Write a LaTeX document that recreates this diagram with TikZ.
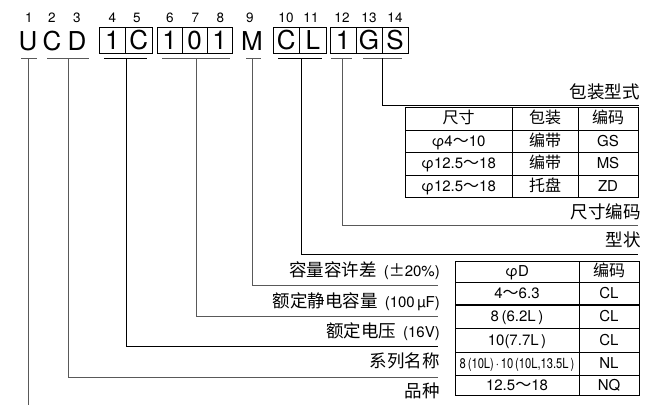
\documentclass[tikz,border=0pt]{standalone}
\usepackage{fontspec}
\setmainfont{TeX Gyre Heros}
\newfontfamily\cjk{Noto Sans CJK SC}
\newcommand\zhL[1]{{\fontsize{17.5}{17.5}\cjk #1}}
\newcommand\zhT[1]{{\fontsize{16}{16}\cjk #1}}
\begin{document}
\begin{tikzpicture}[x=1pt,y=-1pt,
  num/.style={inner sep=0pt, font=\fontsize{13.5}{13.5}\selectfont, text height=9.7pt, text depth=0pt},
  big/.style={inner sep=0pt, font=\fontsize{26}{26}\selectfont, text height=18.7pt, text depth=0pt, minimum height=26pt},
  cellbox/.style={big, draw, line width=0.9pt},
  lng/.style={line width=1pt, black!65},
  lnk/.style={line width=1pt, black},
  lab/.style={inner sep=0pt, anchor=east, font=\fontsize{15}{15}\selectfont, text height=10.8pt, text depth=0pt},
  tx/.style={inner sep=0pt, font=\fontsize{15}{15}\selectfont, text height=10.8pt, text depth=0pt},
  grid/.style={line width=0.9pt, black}
]
\useasboundingbox (0,0) rectangle (657,405);

% ---- code characters ----
\node[big] (u) at (28,41) {U};
\node[big] (c) at (52,41) {C};
\node[big] (d) at (77,41) {D};
\node[cellbox, minimum width=26.5pt] (b4) at (112.25,40) {1};
\node[cellbox, minimum width=26.5pt] (b5) at (138.75,40) {C};
\node[cellbox, minimum width=25pt] (b6) at (169.5,40) {1};
\node[cellbox, minimum width=25pt] (b7) at (194.5,40) {0};
\node[cellbox, minimum width=25pt] (b8) at (219.5,40) {1};
\node[big] (m) at (252,41) {M};
\node[cellbox, minimum width=26.5pt] (b10) at (286.25,40) {C};
\node[cellbox, minimum width=26.5pt] (b11) at (312.75,40) {L};
\node[cellbox, minimum width=26pt] (b12) at (343,40) {1};
\node[cellbox, minimum width=26pt] (b13) at (369,40) {G};
\node[cellbox, minimum width=26pt] (b14) at (395,40) {S};

% ---- position numbers ----
\node[num] (n1) at (29,17.5) {1};
\node[num] (n2) at (52,17.5) {2};
\node[num] (n3) at (77,17.5) {3};
\node[num] (n4) at (112.5,17.5) {4};
\node[num] (n5) at (137,17.5) {5};
\node[num] (n6) at (170,17.5) {6};
\node[num] (n7) at (195.5,17.5) {7};
\node[num] (n8) at (220.5,17.5) {8};
\node[num] (n9) at (250,17.5) {9};
\node[num] (n10) at (286,17.5) {10};
\node[num] (n11) at (311,17.5) {11};
\node[num] (n12) at (342,17.5) {12};
\node[num] (n13) at (369,17.5) {13};
\node[num] (n14) at (395,17.5) {14};

% ---- labels ----
\node[lab] (l14) at (640,93.5) {\zhL{包装型式}};
\node[lab] (l12) at (641,213.5) {\zhL{尺寸编码}};
\node[lab] (l10) at (641,241) {\zhL{型状}};
\node[lab] (l9) at (440,271.5) {\zhL{容量容许差}\hspace{7pt}(\zhT{±}20\%)};
\node[lab] (l6) at (440,302) {\zhL{额定静电容量}\hspace{7pt}(100\,µF)};
\node[lab] (l4) at (440,332) {\zhL{额定电压}\hspace{7pt}(16V)};
\node[lab] (l2) at (440,362) {\zhL{系列名称}};
\node[lab] (l1) at (440,392) {\zhL{品种}};

% ---- connector coordinates ----
\coordinate (uL) at (21,58);  \coordinate (uR) at (37,58);  \coordinate (uM) at (28,58);  \coordinate (uE) at (28,405);
\coordinate (cdL) at (47,58); \coordinate (cdR) at (89,58); \coordinate (cdM) at (68,58); \coordinate (cdE) at (438,377);
\coordinate (vL) at (104,58); \coordinate (vR) at (147,58); \coordinate (vM) at (126,58); \coordinate (vE) at (438,346);
\coordinate (kL) at (162,58); \coordinate (kR) at (230,58); \coordinate (kM) at (196,58); \coordinate (kE) at (438,316);
\coordinate (mL) at (246,58); \coordinate (mR) at (261,58); \coordinate (mM) at (252,58); \coordinate (mE) at (438,285);
\coordinate (sL) at (278,58); \coordinate (sR) at (322,58); \coordinate (sM) at (301,58); \coordinate (sE) at (638,254);
\coordinate (zL) at (331,58); \coordinate (zR) at (352,58); \coordinate (zM) at (342,58); \coordinate (zE) at (638,225);
\coordinate (pL) at (363,58); \coordinate (pR) at (402,58); \coordinate (pM) at (382,58); \coordinate (pE) at (639,105);

\draw[lng] (uL) -- (uR);  \draw[lng] (uM) -- (uE);
\draw[lng] (cdL) -- (cdR); \draw[lng] (cdM) |- (cdE);
\draw[lnk] (vL) -- (vR);  \draw[lnk] (vM) |- (vE);
\draw[lng] (kL) -- (kR);  \draw[lng] (kM) |- (kE);
\draw[lng] (mL) -- (mR);  \draw[lng] (mM) |- (mE);
\draw[lnk] (sL) -- (sR);  \draw[lnk] (sM) |- (sE);
\draw[lng] (zL) -- (zR);  \draw[lng] (zM) |- (zE);
\draw[lng] (pL) -- (pR);  \draw[lnk] (pM) |- (pE);

% ---- table 1 (packaging) ----
\draw[grid] (405,107) rectangle (638,197);
\foreach \yy in {130,152,175} \draw[grid] (405,\yy) -- (638,\yy);
\foreach \xx in {512,578} \draw[grid] (\xx,107) -- (\xx,197);
\node[tx] (a11) at (458.5,118.5) {\zhT{尺寸}};
\node[tx] (a12) at (545,118.5) {\zhT{包装}};
\node[tx] (a13) at (608,118.5) {\zhT{编码}};
\node[tx] (a21) at (458.5,141) {φ4\zhT{～}10};
\node[tx] (a22) at (545,141) {\zhT{编带}};
\node[tx] (a23) at (608,141) {GS};
\node[tx] (a31) at (458.5,163.5) {φ12.5\zhT{～}18};
\node[tx] (a32) at (545,163.5) {\zhT{编带}};
\node[tx] (a33) at (608,163.5) {MS};
\node[tx] (a41) at (458.5,186) {φ12.5\zhT{～}18};
\node[tx] (a42) at (545,186) {\zhT{托盘}};
\node[tx] (a43) at (608,186) {ZD};

% ---- table 2 (shape) ----
\draw[grid] (455,261) rectangle (639,395);
\foreach \yy in {282,328,352,375} \draw[grid] (455,\yy) -- (639,\yy);
\draw[line width=1.7pt] (455,305) -- (639,305);
\draw[grid] (579,261) -- (579,395);
\node[tx] (t11) at (517,271.5) {φD};
\node[tx] (t12) at (609,271.5) {\zhT{编码}};
\node[tx] (t21) at (517,293.5) {4\zhT{～}6.3};
\node[tx] (t22) at (609,293.5) {CL};
\node[tx] (t31) at (517,316.5) {8\,(6.2L\,)};
\node[tx] (t32) at (609,316.5) {CL};
\node[tx] (t41) at (517,340) {10(7.7L\,)};
\node[tx] (t42) at (609,340) {CL};
\node[tx] (t51) at (517,363.5) {\scalebox{0.8}[1]{\fontsize{14}{14}\selectfont 8\,(10L)\,·\,10\,(10L,13.5L\,)}};
\node[tx] (t52) at (609,363.5) {NL};
\node[tx] (t61) at (517,385) {12.5\zhT{～}18};
\node[tx] (t62) at (609,385) {NQ};
\end{tikzpicture}
\end{document}
